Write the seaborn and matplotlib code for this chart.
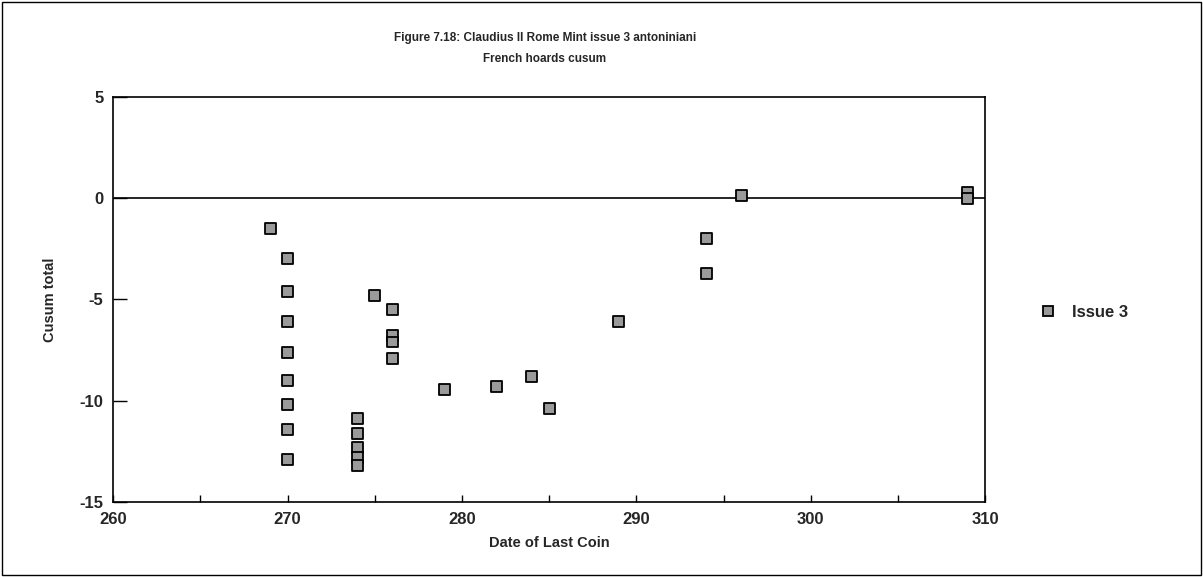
"""
Cusum scatter of Claudius II Rome Mint issue 3 antoniniani in French hoards.
"""

import matplotlib.pyplot as plt
import pandas as pd
import seaborn as sns
from matplotlib.patches import Rectangle
from matplotlib.ticker import MultipleLocator

# --- Data ---
dates = [
    269,
    270, 270, 270, 270, 270, 270, 270, 270,
    274, 274, 274, 274, 274,
    275,
    276, 276, 276, 276,
    279, 282, 284, 285,
    289,
    294, 294,
    296,
    309, 309,
]
cusum = [
    -1.5,
    -3.0, -4.6, -6.1, -7.6, -9.0, -10.2, -11.4, -12.9,
    -10.9, -11.6, -12.3, -12.8, -13.2,
    -4.8,
    -5.5, -6.8, -7.1, -7.9,
    -9.45, -9.3, -8.8, -10.4,
    -6.1,
    -2.0, -3.7,
    0.15,
    0.3, 0.0,
]
series = ["Issue 3"] * len(dates)

df = pd.DataFrame({"date": dates, "cusum": cusum, "series": series})

sns.set_style("white")
plt.rcParams["font.family"] = ["Liberation Sans", "DejaVu Sans"]
plt.rcParams["axes.unicode_minus"] = False

fig = plt.figure(figsize=(12.03, 5.77), dpi=100)
ax = fig.add_axes((0.094, 0.130, 0.725, 0.702))

ax.axhline(0, color="black", lw=1.2, zorder=1)
sns.scatterplot(
    data=df, x="date", y="cusum", hue="series", palette={"Issue 3": "#9a9a9a"},
    marker="s", s=62, edgecolor="black", linewidth=1.3, ax=ax, zorder=3,
)

ax.set_xlim(260, 310)
ax.set_ylim(-15, 5)
ax.xaxis.set_major_locator(MultipleLocator(10))
ax.xaxis.set_minor_locator(MultipleLocator(5))
ax.yaxis.set_major_locator(MultipleLocator(5))
ax.tick_params(axis="x", which="both", direction="in", length=5, width=1, color="black",
               bottom=True, top=False)
ax.tick_params(axis="y", which="major", direction="in", length=10, width=1, color="black",
               left=True, right=False)
ax.tick_params(axis="both", labelsize=12, pad=7)
for lab in ax.get_xticklabels() + ax.get_yticklabels():
    lab.set_fontweight("bold")
for sp in ax.spines.values():
    sp.set_color("black")
    sp.set_linewidth(1.2)

ax.set_xlabel("Date of Last Coin", fontsize=10.5, fontweight="bold", labelpad=7)
ax.set_ylabel("Cusum total", fontsize=10.5, fontweight="bold", labelpad=16)

fig.text(0.453, 0.916, "Figure 7.18: Claudius II Rome Mint issue 3 antoniniani\nFrench hoards cusum",
         ha="center", va="center", fontsize=8.5, fontweight="bold", linespacing=2.0,
         family=["Liberation Sans Narrow", "Liberation Sans", "DejaVu Sans"])

handles, labels = ax.get_legend_handles_labels()
ax.get_legend().remove()
fig.legend(handles, labels, loc="center left", bbox_to_anchor=(0.845, 0.459),
           frameon=False, prop={"weight": "bold", "size": 12}, handletextpad=0.4)

# outer frame around the whole figure
fig.patches.append(Rectangle((0.002, 0.003), 0.996, 0.994, transform=fig.transFigure,
                             fill=False, edgecolor="black", lw=1))

fig.savefig("out.png", dpi=100)
